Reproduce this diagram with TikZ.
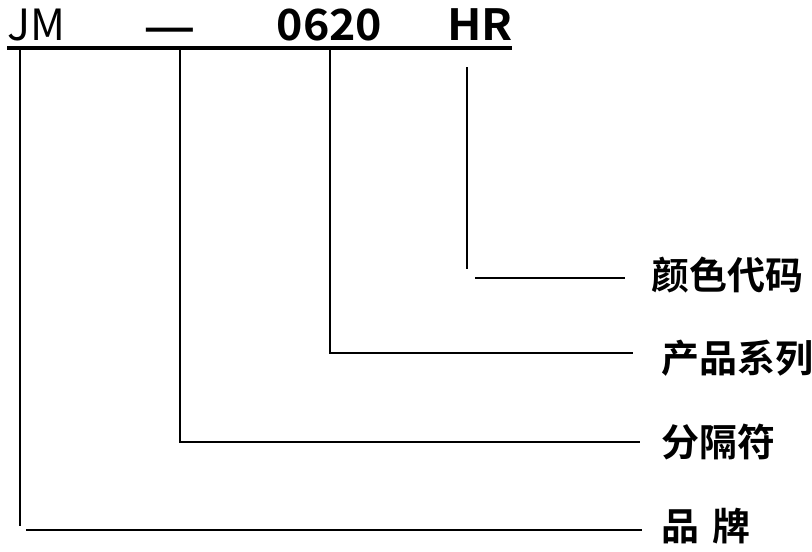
\documentclass[tikz,border=0pt]{standalone}
\usepackage{fontspec}
\newfontfamily\cjk{Noto Sans CJK SC}[BoldFont={Noto Sans CJK SC Bold}]
\begin{document}
\begin{tikzpicture}[x=1pt,y=-1pt,
  lbl/.style={font=\cjk\bfseries\fontsize{38}{38}\selectfont, inner sep=0pt, anchor=west},
  code/.style={font=\cjk\fontsize{43}{43}\selectfont, inner sep=0pt, anchor=base},
  codeb/.style={code, font=\cjk\bfseries\fontsize{43}{43}\selectfont},
  ln/.style={line width=2pt, line cap=butt},
  topln/.style={line width=3.5pt}]
\useasboundingbox (0,0) rectangle (812,552);
% code texts
\node[code, anchor=base west] (jm) at (7,40) {JM};
\node[codeb] (dash) at (169.5,42) {\scalebox{1.35}[1]{—}};
\node[codeb] (num) at (329.5,40) {\scalebox{1.04}[1]{0620}};
\node[codeb] (hr) at (480,40) {\scalebox{1.06}[1]{HR}};
% top rule
\coordinate (t0) at (7,48);
\coordinate (t1) at (512,48);
\draw[topln] (t0) -- (t1);
% labels
\node[lbl] (color) at (651,275) {颜色代码};
\node[lbl] (series) at (661,358) {产品系列};
\node[lbl] (sep) at (661,442) {分隔符};
\node[lbl] (brand) at (661,526) {品\hspace{0.35em}牌};
% connector coordinates
\coordinate (v1) at (20,50);
\coordinate (v1e) at (20,526);
\coordinate (h1s) at (26,530);
\coordinate (h1e) at (642,530);
\coordinate (v2) at (180,50);
\coordinate (h2e) at (640,442);
\coordinate (v3) at (330,50);
\coordinate (h3e) at (633,353);
\coordinate (v4) at (467,67);
\coordinate (v4e) at (467,269);
\coordinate (h4s) at (475,278);
\coordinate (h4e) at (625,278);
% connectors
\draw[ln] (v1) -- (v1e);
\draw[ln] (h1s) -- (h1e);
\draw[ln] (v2) |- (h2e);
\draw[ln] (v3) |- (h3e);
\draw[ln] (v4) -- (v4e);
\draw[ln] (h4s) -- (h4e);
\end{tikzpicture}
\end{document}
